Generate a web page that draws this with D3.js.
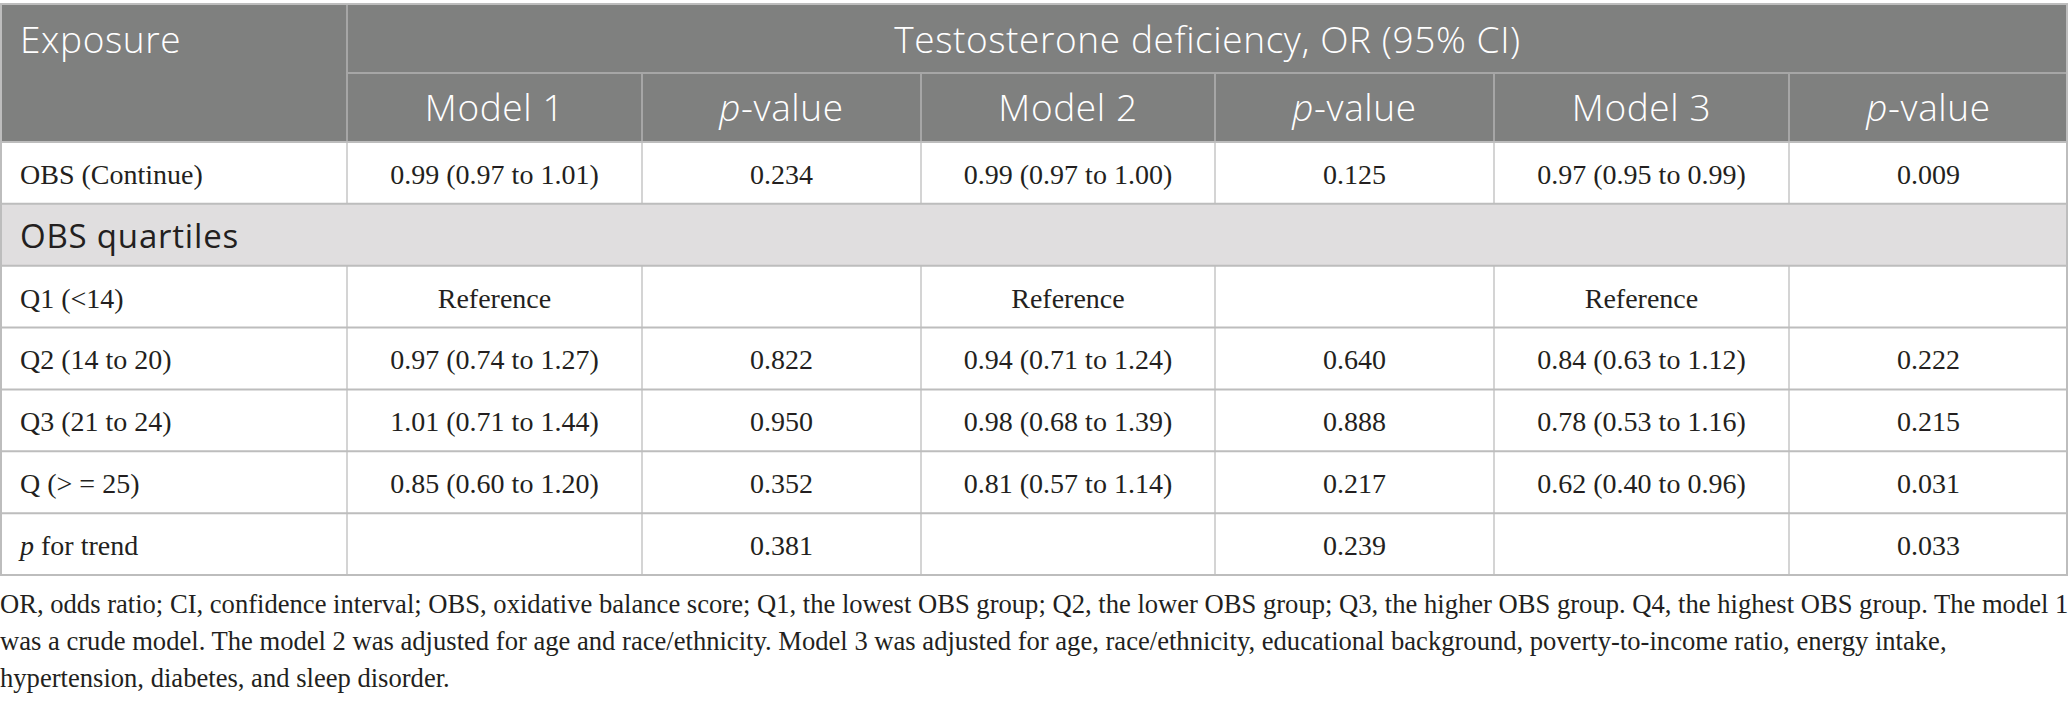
<!DOCTYPE html>
<html>
<head>
<meta charset="utf-8">
<script src="https://cdn.jsdelivr.net/npm/d3@7"></script>
<style>
  body { margin: 0; background: #fff; }
  svg { display: block; }
</style>
</head>
<body>
<script>
// table content
var columns = ["Exposure", "Model 1", "p-value", "Model 2", "p-value", "Model 3", "p-value"];
var spanTitle = "Testosterone deficiency, OR (95% CI)";
var groupLabel = "OBS quartiles";

var exposures = ["OBS (Continue)", "Q1 (<14)", "Q2 (14 to 20)", "Q3 (21 to 24)", "Q (> = 25)", "p for trend"];
var model1 = ["0.99 (0.97 to 1.01)", "Reference", "0.97 (0.74 to 1.27)", "1.01 (0.71 to 1.44)", "0.85 (0.60 to 1.20)", ""];
var p1 = ["0.234", "", "0.822", "0.950", "0.352", "0.381"];
var model2 = ["0.99 (0.97 to 1.00)", "Reference", "0.94 (0.71 to 1.24)", "0.98 (0.68 to 1.39)", "0.81 (0.57 to 1.14)", ""];
var p2 = ["0.125", "", "0.640", "0.888", "0.217", "0.239"];
var model3 = ["0.97 (0.95 to 0.99)", "Reference", "0.84 (0.63 to 1.12)", "0.78 (0.53 to 1.16)", "0.62 (0.40 to 0.96)", ""];
var p3 = ["0.009", "", "0.222", "0.215", "0.031", "0.033"];

var footnote = [
  "OR, odds ratio; CI, confidence interval; OBS, oxidative balance score; Q1, the lowest OBS group; Q2, the lower OBS group; Q3, the higher OBS group. Q4, the highest OBS group. The model 1",
  "was a crude model. The model 2 was adjusted for age and race/ethnicity. Model 3 was adjusted for age, race/ethnicity, educational background, poverty-to-income ratio, energy intake,",
  "hypertension, diabetes, and sleep disorder."
];

var w = 2068, h = 702;
var svg = d3.select("body").append("svg")
    .attr("width", w)
    .attr("height", h);

var sans = "'Open Sans', sans-serif";
var serif = "'Liberation Serif', 'Times New Roman', serif";
var ink = "#231f20";

// column edges
var colWidths = [347, 295, 279, 294, 279, 295, 279];
var edges = [0];
colWidths.forEach(function(cw) { edges.push(edges[edges.length - 1] + cw); });
var xScale = d3.scaleOrdinal().domain(d3.range(7)).range(edges.slice(0, 7));
function colCenter(i) { return xScale(i) + colWidths[i] / 2; }

// rows: built from arrays, group row after the first one
var rows = [];
exposures.forEach(function(e, i) {
  rows.push({ type: "data", cells: [e, model1[i], p1[i], model2[i], p2[i], model3[i], p3[i]] });
  if (i === 0) rows.push({ type: "group", label: groupLabel });
});

var tableTop = 4, hdr = 69;
var yScale = d3.scaleBand()
    .domain(d3.range(rows.length))
    .range([tableTop + 2 * hdr, 575]);

// header background
svg.append("rect")
    .attr("x", 0).attr("y", tableTop)
    .attr("width", w).attr("height", 2 * hdr)
    .attr("fill", "#7f807f");

// header lines
var hl = "#a6a6a6";
svg.append("line")
    .attr("x1", edges[1]).attr("x2", w)
    .attr("y1", tableTop + hdr).attr("y2", tableTop + hdr)
    .attr("stroke", hl).attr("stroke-width", 2);
svg.append("line")
    .attr("x1", edges[1]).attr("x2", edges[1])
    .attr("y1", tableTop).attr("y2", tableTop + 2 * hdr)
    .attr("stroke", hl).attr("stroke-width", 2);
svg.selectAll(".hsep")
    .data(d3.range(2, 7))
    .enter().append("line")
    .attr("x1", function(d) { return xScale(d); })
    .attr("x2", function(d) { return xScale(d); })
    .attr("y1", tableTop + hdr).attr("y2", tableTop + 2 * hdr)
    .attr("stroke", hl).attr("stroke-width", 2);

// header texts
var hSize = 37, hSpace = 0.6, hWeight = 360;
svg.append("text")
    .attr("x", 20).attr("y", 53)
    .attr("font-family", sans).attr("font-size", hSize)
    .attr("font-weight", hWeight)
    .attr("letter-spacing", hSpace)
    .attr("fill", "#fff")
    .text(columns[0]);
svg.append("text")
    .attr("x", (edges[1] + w) / 2).attr("y", 53)
    .attr("text-anchor", "middle")
    .attr("font-family", sans).attr("font-size", hSize)
    .attr("font-weight", hWeight)
    .attr("letter-spacing", hSpace)
    .attr("fill", "#fff")
    .text(spanTitle);

svg.selectAll(".colhead")
    .data(d3.range(1, 7))
    .enter().append("text")
    .attr("x", function(d) { return colCenter(d); })
    .attr("y", 52 + hdr)
    .attr("text-anchor", "middle")
    .attr("font-family", sans).attr("font-size", hSize)
    .attr("font-weight", hWeight)
    .attr("letter-spacing", hSpace)
    .attr("fill", "#fff")
    .each(function(d) {
      var t = d3.select(this);
      var name = columns[d];
      if (name.indexOf("p-") === 0) {
        t.append("tspan").attr("font-style", "italic").text("p");
        t.append("tspan").text(name.slice(1));
      } else {
        t.text(name);
      }
    });

// body rows
var rowG = svg.selectAll(".row")
    .data(rows)
    .enter().append("g")
    .attr("transform", function(d, i) { return "translate(0," + yScale(i) + ")"; });

rowG.append("rect")
    .attr("x", 0).attr("y", 0)
    .attr("width", w).attr("height", yScale.bandwidth())
    .attr("fill", function(d) { return d.type === "group" ? "#e0dedf" : "#fff"; });

rowG.filter(function(d) { return d.type === "group"; })
  .append("text")
    .attr("x", 20).attr("y", yScale.bandwidth() / 2 + 13)
    .attr("font-family", sans).attr("font-size", 33)
    .attr("letter-spacing", 0.8)
    .attr("fill", ink)
    .text(function(d) { return d.label; });

var cellG = rowG.filter(function(d) { return d.type === "data"; });

cellG.selectAll(".vsep")
    .data(d3.range(1, 7))
    .enter().append("line")
    .attr("x1", function(d) { return xScale(d); })
    .attr("x2", function(d) { return xScale(d); })
    .attr("y1", 0).attr("y2", function() { return yScale.bandwidth(); })
    .attr("stroke", "#c6c6c6").attr("stroke-width", 1.5);

cellG.selectAll(".cell")
    .data(function(d) { return d.cells.map(function(c, j) { return { text: c, col: j }; }); })
    .enter().append("text")
    .attr("x", function(d) { return d.col === 0 ? 20 : colCenter(d.col); })
    .attr("y", yScale.bandwidth() / 2 + 11)
    .attr("text-anchor", function(d) { return d.col === 0 ? "start" : "middle"; })
    .attr("font-family", serif).attr("font-size", 28)
    .attr("fill", ink)
    .each(function(d) {
      var t = d3.select(this);
      if (d.col === 0 && d.text.indexOf("p ") === 0) {
        t.append("tspan").attr("font-style", "italic").text("p");
        t.append("tspan").text(d.text.slice(1));
      } else {
        t.text(d.text);
      }
    });

// horizontal rules
var ruleYs = d3.range(rows.length + 1).map(function(i) {
  return i < rows.length ? yScale(i) : yScale(rows.length - 1) + yScale.bandwidth();
});
svg.selectAll(".hrule")
    .data(ruleYs)
    .enter().append("line")
    .attr("x1", 0).attr("x2", w)
    .attr("y1", function(d) { return d; })
    .attr("y2", function(d) { return d; })
    .attr("stroke", "#bdbdbd").attr("stroke-width", 2);

// outer border
svg.append("rect")
    .attr("x", 1).attr("y", tableTop)
    .attr("width", w - 2).attr("height", ruleYs[ruleYs.length - 1] - tableTop)
    .attr("fill", "none")
    .attr("stroke", "#bdbdbd").attr("stroke-width", 2);

// footnote
svg.selectAll(".foot")
    .data(footnote)
    .enter().append("text")
    .attr("x", 0)
    .attr("y", function(d, i) { return 613 + i * 37; })
    .attr("font-family", serif).attr("font-size", 26.6)
    .attr("fill", ink)
    .text(function(d) { return d; });
</script>
</body>
</html>
